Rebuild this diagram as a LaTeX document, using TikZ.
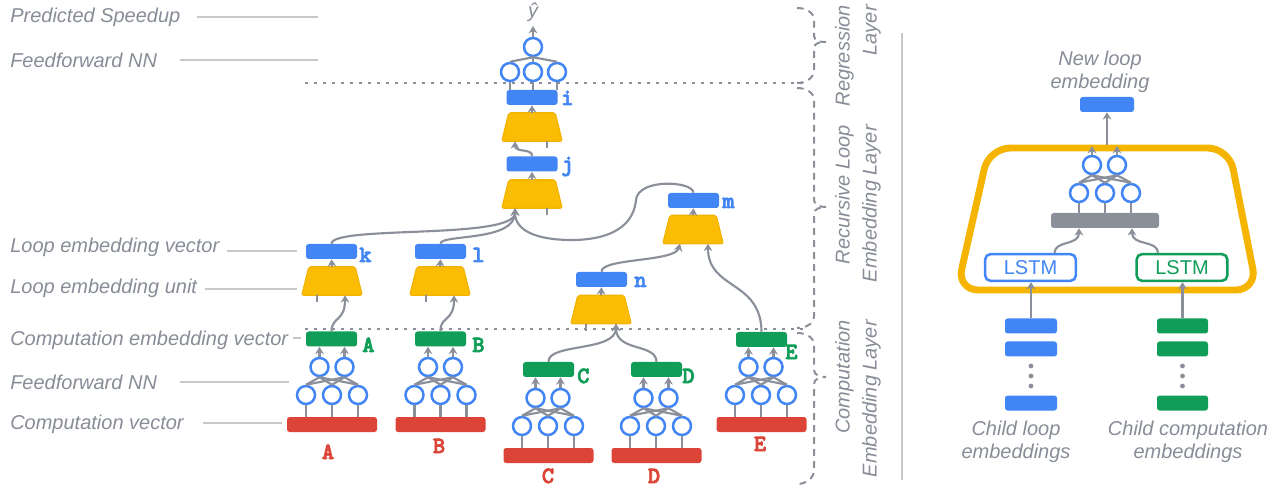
\documentclass[tikz,border=0pt]{standalone}
\usepackage{fontspec}
\setmainfont{Liberation Sans}
\newfontfamily\codefont{lmmonolt10-bold.otf}[FakeBold=3]
\usetikzlibrary{arrows.meta,calc}
\definecolor{gblue}{HTML}{4285F4}
\definecolor{ggreen}{HTML}{0F9D58}
\definecolor{gred}{HTML}{DB4437}
\definecolor{gyellow}{HTML}{FBBC04}
\definecolor{gyellowd}{HTML}{F2B200}
\definecolor{frameyellow}{HTML}{F4B400}
\definecolor{cgray}{HTML}{8A8F9A}
\definecolor{tgray}{HTML}{878C97}
\definecolor{lgray}{HTML}{C8C8C8}
\newcommand\myffnn[4]{%
  \node[neuron] (#1t1) at (#2-12.5,#3) {};
  \node[neuron] (#1t2) at (#2+12.5,#3) {};
  \node[neuron] (#1b1) at (#2-26,#4) {};
  \node[neuron] (#1b2) at (#2,#4) {};
  \node[neuron] (#1b3) at (#2+26,#4) {};
  \foreach \ii in {1,2}{\foreach \jj in {1,2,3}{\draw[conn] (#1t\ii.south) -- (#1b\jj.north);}}
}
\begin{document}
\begin{tikzpicture}[x=0.75pt,y=-0.75pt,
  lab/.style={font=\fontsize{15}{17.25}\selectfont\itshape, text=tgray, inner sep=0, anchor=west},
  laylab/.style={font=\fontsize{15}{20.25}\selectfont\itshape, text=tgray, inner sep=0, rotate=90, align=right, anchor=east},
  guide/.style={draw=lgray, line width=1.5pt},
  conn/.style={draw=cgray, line width=1.6pt},
  arr/.style={conn, -{Stealth[length=5.5pt,width=6.5pt]}},
  vecbox/.style={rounded corners=2pt, minimum width=38.25pt, minimum height=11.25pt, inner sep=0},
  bvec/.style={vecbox, fill=gblue},
  gvec/.style={vecbox, fill=ggreen},
  rvec/.style={vecbox, fill=gred, minimum width=67.5pt},
  neuron/.style={circle, draw=gblue, line width=1.9pt, fill=white, minimum size=13.5pt, inner sep=0},
  unitbox/.style={rectangle, minimum width=45pt, minimum height=21pt, inner sep=0},
  unitfill/.style={fill=gyellow, draw=gyellowd, line width=0.8pt, rounded corners=1.5pt},
  code/.style={font=\codefont\fontsize{17.5}{17.5}\selectfont, inner sep=0, anchor=base west},
  bl/.style={code, text=gblue},
  gl/.style={code, text=ggreen},
  rl/.style={code, text=gred, anchor=base},
  brace/.style={draw=cgray, line width=1.5pt, dash pattern=on 5pt off 4pt},
  dotline/.style={draw=cgray, line width=1.6pt, dash pattern=on 2pt off 4.75pt},
  lstm/.style={draw=#1, text=#1, line width=1.9pt, rounded corners=4pt, fill=white, minimum width=68pt, minimum height=20pt, inner sep=0, font=\fontsize{15}{17.25}\selectfont},
]
\useasboundingbox (0,0) rectangle (1282,488);

% ---------- left labels ----------
\node[lab] (tPS) at (10,17) {Predicted Speedup};
\node[lab] (tFF1) at (10,60) {Feedforward NN};
\node[lab] (tLEV) at (10,247) {Loop embedding vector};
\node[lab] (tLEU) at (10,288) {Loop embedding unit};
\node[lab] (tCEV) at (10,340) {Computation embedding vector};
\node[lab] (tFF2) at (10,382) {Feedforward NN};
\node[lab] (tCV) at (10,424) {Computation vector};
\draw[guide] (197,17) -- (318,17);
\draw[guide] (180,60) -- (318,60);
\draw[guide] (227,251) -- (297,251);
\draw[guide] (205,289) -- (297,289);
\draw[guide] (293,338) -- (301,338);
\draw[guide] (180,382) -- (289,382);
\draw[guide] (203,423) -- (282,423);

% ---------- dotted separators ----------
\draw[dotline] (305,83) -- (803,83);
\draw[dotline] (305,329) -- (803,329);

% ---------- regression layer ----------
\node[font=\fontsize{15}{17.25}\selectfont\itshape, text=tgray, inner sep=0] (yhat) at (533,12) {ŷ};
\coordinate (yin) at (533,26);
\node[neuron] (r0) at (533,47) {};
\node[neuron] (r1) at (510,72) {};
\node[neuron] (r2) at (533,72) {};
\node[neuron] (r3) at (557,72) {};
\draw[arr] (r0.north) -- (yin);
\foreach \k in {1,2,3}{\draw[conn] (r0.south) -- (r\k.north);}

% ---------- loop embedding units ----------
\node[bvec] (i) at (532,97.5) {};
\node[unitbox] (ui) at (532,127) {};
\node[bvec] (j) at (532,164) {};
\node[unitbox] (uj) at (532,194) {};
\node[bvec] (k) at (331.5,251.5) {};
\node[unitbox] (uk) at (332,281) {};
\node[bvec] (l) at (440.5,251.5) {};
\node[unitbox] (ul) at (440,281) {};
\node[bvec] (m) at (693.5,200.5) {};
\node[unitbox] (um) at (693,229.5) {};
\node[bvec] (n) at (601.5,279.5) {};
\node[unitbox] (un) at (601,309.5) {};
\foreach \u in {ui,uj,uk,ul,um,un}{
  \path[unitfill] (\u.south west) -- (\u.south east) -- ($(\u.north east)+(-7,0)$) -- ($(\u.north west)+(7,0)$) -- cycle;
}
\foreach \k in {1,2,3}{\draw[conn] (r\k.south) -- (r\k.south |- i.north);}

\foreach \u/\v in {ui/i,uj/j,uk/k,ul/l,um/m,un/n}{\draw[arr] (\u.north) -- (\v.south);}

% stubs under units
\draw[conn] ($(ui.south)+(15,0)$) -- ++(0,7);
\draw[conn] ($(uj.south)+(15,0)$) -- ++(0,7);
\draw[conn] ($(uk.south)+(-15,0)$) -- ++(0,7);
\draw[conn] ($(ul.south)+(-14,0)$) -- ++(0,7);
\draw[conn] ($(un.south)+(-15,0)$) -- ++(0,7);

\coordinate (ui-in) at ($(ui.south)+(-17,0)$);
\coordinate (uj-in) at ($(uj.south)+(-17,0)$);
\coordinate (uk-in) at ($(uk.south)+(13,0)$);
\coordinate (ul-in) at ($(ul.south)+(14,0)$);
\coordinate (um-in1) at ($(um.south)+(-13,0)$);
\coordinate (um-in2) at ($(um.south)+(15,0)$);
\coordinate (un-in) at ($(un.south)+(15,0)$);

% ---------- computation embeddings ----------
\node[gvec] (A) at (331.5,339) {};
\node[gvec] (B) at (440.5,339) {};
\node[gvec] (C) at (548.5,369.5) {};
\node[gvec] (D) at (656.5,369.5) {};
\node[gvec] (E) at (761.5,339.5) {};
\node[rvec] (Ar) at (332,424.5) {};
\node[rvec] (Br) at (440.5,424.5) {};
\node[rvec] (Cr) at (548.5,455.5) {};
\node[rvec] (Dr) at (656.5,455.5) {};
\node[rvec] (Er) at (761.5,424.5) {};
\myffnn{A}{332}{367}{395}
\myffnn{B}{440.5}{367}{395}
\myffnn{C}{548}{398}{426}
\myffnn{D}{656}{398}{426}
\myffnn{E}{761}{367}{395}
\foreach \c in {A,B,C,D,E}{
  \foreach \b in {1,2,3}{\draw[conn] (\c b\b.south) -- (\c b\b.south |- \c r.north);}
  \foreach \t in {1,2}{\draw[arr] (\c t\t.north) -- (\c t\t.north |- \c.south);}
}

% ---------- curved connectors ----------
\draw[arr] (j.north) .. controls (533,148) and (515,153) .. (ui-in);
\draw[arr] (k.north) .. controls (332,225) and (515,240) .. (uj-in);
\draw[arr] (l.north) .. controls (440,234) and (515,242) .. (uj-in);
\draw[arr] (m.north) .. controls (693,181) and (638,178) .. (636,200)
   .. controls (633,232) and (600,240) .. (572,240)
   .. controls (535,240) and (515,230) .. (uj-in);
\draw[arr] (n.north) .. controls (601,258) and (675,262) .. (um-in1);
\draw[arr] (E.north) .. controls (761,280) and (708,290) .. (um-in2);
\draw[arr] (A.north) .. controls (332,316) and (345,322) .. (uk-in);
\draw[arr] (B.north) .. controls (440,316) and (454,322) .. (ul-in);
\draw[arr] (C.north) .. controls (548,343) and (616,352) .. (un-in);
\draw[arr] (D.north) .. controls (656,343) and (616,352) .. (un-in);

% ---------- vector labels ----------
\node[bl] (li) at (561,105) {i};
\node[bl] (lj) at (561,171) {j};
\node[bl] (lk) at (359,262) {k};
\node[bl] (ll) at (472,262) {l};
\node[bl] (lm) at (722,208) {m};
\node[bl] (ln) at (634,287) {n};
\node[gl] (lA) at (362,352) {A};
\node[gl] (lB) at (472,352) {B};
\node[gl] (lC) at (577,383) {C};
\node[gl] (lD) at (682,383) {D};
\node[gl] (lE) at (785,359) {E};
\node[rl] (rA) at (328,459) {A};
\node[rl] (rB) at (439,453) {B};
\node[rl] (rC) at (548,483) {C};
\node[rl] (rD) at (654,483) {D};
\node[rl] (rE) at (760,451) {E};

% ---------- layer braces ----------
\draw[brace] (797,8) to[out=0,in=90] (814,20) -- (814,36) to[out=-90,in=180] (826,42)
  to[out=180,in=90] (814,48) -- (814,70) to[out=-90,in=0] (797,83);
\draw[brace] (797,88) to[out=0,in=90] (814,100) -- (814,200) to[out=-90,in=180] (826,207)
  to[out=180,in=90] (814,214) -- (814,316) to[out=-90,in=0] (797,328);
\draw[brace] (797,333) to[out=0,in=90] (814,345) -- (814,370) to[out=-90,in=180] (826,377)
  to[out=180,in=90] (814,384) -- (814,470) to[out=-90,in=0] (797,484);
\node[laylab] (Lreg) at (858,5) {Regression\\Layer};
\node[laylab] (Lrec) at (858,125) {Recursive Loop\\Embedding Layer};
\node[laylab] (Lcomp) at (858,320) {Computation\\Embedding Layer};

\draw[draw=lgray, line width=1.5pt] (902,33) -- (902,480);

% ---------- right panel ----------
\node[lab, anchor=center, align=center] (newl) at (1100,71.5) {New loop\\embedding};
\node[bvec, minimum width=40.5pt] (nle) at (1107,104.5) {};
\draw[draw=frameyellow, line width=5.2pt, rounded corners=16pt]
  (1107,148) -- (1229,148) -- (1257,290) -- (957,290) -- (989,148) -- cycle;
\coordinate (ftop) at (1107,145);
\draw[arr] (ftop) -- (nle.south);
\node[fill=cgray, rounded corners=2pt, minimum width=81pt, minimum height=11.25pt, inner sep=0] (cat) at (1105,220.5) {};
\node[neuron] (p1) at (1092,165) {};
\node[neuron] (p2) at (1117,165) {};
\node[neuron] (q1) at (1079,193) {};
\node[neuron] (q2) at (1105,193) {};
\node[neuron] (q3) at (1131,193) {};
\foreach \a in {1,2}{\foreach \b in {1,2,3}{\draw[conn] (p\a.south) -- (q\b.north);}}
\foreach \b in {1,2,3}{\draw[conn] (q\b.south) -- (q\b.south |- cat.north);}
\coordinate (p1o) at (1092,146);
\coordinate (p2o) at (1117,146);
\draw[arr] (p1.north) -- (p1o);
\draw[arr] (p2.north) -- (p2o);
\node[lstm=gblue] (lstm1) at (1030.5,267.5) {LSTM};
\node[lstm=ggreen] (lstm2) at (1182,267.5) {LSTM};
\draw[arr] ($(lstm1.north)+(24,0)$) .. controls (1055,240) and (1079,246) .. ($(cat.south)+(-26,0)$);
\draw[arr] ($(lstm2.north)+(-24,0)$) .. controls (1158,240) and (1132,246) .. ($(cat.south)+(27,0)$);

\node[bvec, minimum width=39pt] (cb1) at (1031,326) {};
\node[bvec, minimum width=39pt] (cb2) at (1031,349) {};
\node[bvec, minimum width=39pt] (cb3) at (1031,403) {};
\node[gvec, minimum width=38.25pt] (cg1) at (1182.5,326) {};
\node[gvec, minimum width=38.25pt] (cg2) at (1182.5,349) {};
\node[gvec, minimum width=38.25pt] (cg3) at (1182.5,403) {};
\foreach \yy in {366,376,386}{
  \fill[cgray] (1031,\yy) circle (1.8pt);
  \fill[cgray] (1182.5,\yy) circle (1.8pt);
}
\draw[arr] (cb1.north) -- (cb1.north |- lstm1.south);
\draw[arr] (cg1.north) -- (cg1.north |- lstm2.south);
\node[lab, anchor=center, align=center] (cll) at (1016,441.5) {Child loop\\embeddings};
\node[lab, anchor=center, align=center] (ccl) at (1188,441.5) {Child computation\\embeddings};
\end{tikzpicture}
\end{document}
